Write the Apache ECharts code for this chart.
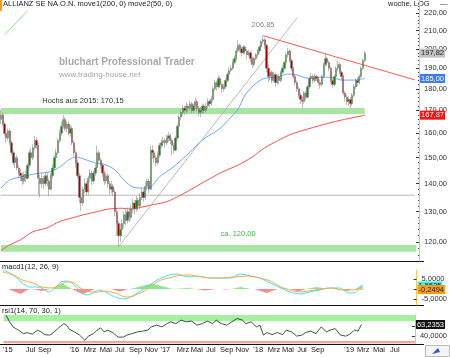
<!DOCTYPE html>
<html><head><meta charset="utf-8">
<script src="https://cdn.jsdelivr.net/npm/echarts@6/dist/echarts.min.js"></script>
<style>html,body{margin:0;padding:0;background:#fff}#c{width:450px;height:357px}</style>
</head><body><div id="c"></div>
<script>
// ---------- data ----------
const startDate = '2015-03-23';
const weekCount = 235;
const firstOpen = 166;
const closes = [
168,164,160,158,161,156,152,148,150,146,
144,143,141,143.5,142,147,152,150,154,157,
155,142,140,142,140,143,141,138,143,146,
150,152,157,160,163,166,162,164,160,162,
156,152,148,143,135,133,138,140,137,142,
144,141,144,146,152,149,147,144,141,143,
140,138,139,137,130,126,122,124,126,129,
127,130,128,131,133,131,134,132,135,137,
135,139,141,138,153,152,150,148,151,155,
156,157,156,158,159,157,155,153,158,163,
167,169,171,170,172,171,173,170,172,174,
171,169,170,172,170,172,174,173,175,180,
183,181,185,182,180,181,184,187,189,190,
193,195,199,202,200,198,201,199,197,198,
195,192,195,197,199,201,204,205,202,190,
186,188,184,187,183,186,184,188,190,193,
197,199,194,190,186,183,180,177,175,174,
178,176,181,185,186,184,186,185,183,182,
186,192,195,193,190,184,182,186,190,192,
188,186,178,176,174,175,173,177,181,184,
183,186,190,194,197.82];
const highs = [
170.2,169,165,161,162,162,157,153,151,151,
147,145.5,144,144.5,145,148,153,154,155.5,159,
158.5,156,143.5,144,143,144.5,144,142,144,147.5,
151,153.5,158,161.5,165,168,167,165.5,165,163.5,
163,157,153,149,144,136.5,139,142,141,143,
145.5,145,145,147.5,155,153,150,148,145,144.5,
144,141,141,140,138,131,127,126,127.5,130,
131,131.5,131.5,132.5,134.5,134,135.5,135,136.5,138.5,
138,140.5,142,142,155,155,153,151,152.5,156,
157.5,158.5,158,159.5,160.5,160,158,156,159,164,
168,170,172.5,172,173.5,173,174.5,174,173,176,
175,172,171.5,173,173,173.5,175.5,175,176.5,181,
184.5,184,186.5,186,183,182.5,185,188,190.5,191.5,
194.5,196.5,200.5,204.8,203,201,202,202,200,199.5,
199,196,196,198,200,202,205,206.85,206,203,
192,190,189,188.5,188,187,187,189,191.5,194,
198.5,200.5,200,195,191,187,184,181,178,176.5,
179,179,182,186,187.5,187,187.5,187,186,184.5,
187,193,197.5,196,194,191,185,187,191,194,
193,189,187,179,177,176.5,176,178,182,185,
185.5,187,191,195,199];
const lows = [
164,163,159,156,157,155,151,147,146,145,
142,141,139.5,140,140.5,141.5,146,148.5,149,153,
153.5,136,135,138.5,138,139,139,135.5,137.5,142,
145,149,151,156,159,162,161,160.5,159,158.5,
155,150.5,146,142,133,130.3,132,136.5,135.5,136,
140.5,139.5,140,143,145,148,145.5,142.5,139.5,140,
138.5,136,136.5,135.5,128.5,122,118.5,120,122,124.5,
125.5,126,126.5,127,129.5,129,130,130.5,131,134,
133.5,134,137.5,136.5,137.5,149.5,148,146.5,147,150,
154,154.5,154,155,156.5,155.5,151,151.5,152.5,157,
162,165.5,167.5,168,168.5,169,170,168.5,169,170.5,
169.5,167.5,167,168.5,168.5,169,171,171.5,172,174,
179,179,180,180.5,178,178.5,180,183,186,188,
189,192,194,198,198.5,196,197,197.5,195,196,
193,190,191,194,196,198,200,202.5,200,188,
183,184,182.5,183,181,182,182,183,187,189,
192,195.5,193,188.5,185,181.5,178.5,175.5,173,171,
173,174.5,175.5,180,183.5,182.5,183,183.5,181.5,180,
181,185,191,191.5,188.5,182.5,180.5,181,185,188.5,
187,184,177,174,172.5,172,171,172,176,180,
181,182,185,189,193];

const ma50 = [[0,138.4],[5,141.4],[11,142.5],[16,143.3],[22,144.0],[27,144.4],[33,146.3],[38,149.1],[42,150.3],[48,149.1],[53,147.9],[59,147.1],[64,145.2],[69,141.4],[74,138.8],[80,138.4],[84,138.8],[89,142.6],[97,146.5],[106,152.2],[113,157.2],[123,162.1],[128,166.1],[133,170.6],[137,177.1],[143,182.6],[148,185.1],[155,185.6],[161,187.2],[166,186.7],[172,185.1],[180,185.6],[185,185.6],[191,184.2],[198,184.2],[204,185.0]];
const ma200 = [[0,117.3],[5,119.1],[11,120.7],[18,123.3],[26,124.6],[33,126.7],[40,127.9],[46,128.9],[53,129.9],[60,130.9],[68,131.2],[73,130.9],[79,131.6],[84,132.3],[92,133.3],[99,135.2],[106,137.7],[114,140.7],[121,143.3],[124,144.4],[133,147.1],[141,150.3],[148,154.0],[155,156.8],[163,159.7],[172,161.8],[184,164.4],[191,165.7],[204,167.87]];

const macdLine = [[1,9.5],[5,8],[9,5.5],[12,3],[16,1],[20,1],[23,0.5],[27,-1.5],[31,1],[34,3.5],[37,4],[40,3],[44,-0.5],[48,-3],[51,-2.5],[55,-0.5],[59,-1.5],[62,-3],[66,-4.5],[70,-5],[73,-4],[77,-2],[81,0.5],[84,2],[88,4.5],[92,6],[95,7],[99,7.5],[103,6.5],[107,6],[110,6.5],[114,6],[118,5.5],[124,5.5],[130,5.5],[135,7.5],[141,6.5],[146,5.5],[152,3],[158,0.5],[163,-1.5],[169,-2.5],[174,-1.5],[180,-0.5],[185,0.5],[191,0.5],[195,-1.5],[197,-2],[200,-1.5],[203,1],[204,1.5535]];
const signalLine = [[1,8.5],[7,7],[12,4.5],[18,3],[23,1],[29,0.5],[33,2],[37,3.5],[40,3.5],[44,1],[48,-1],[51,-1.5],[55,-1.5],[59,-1],[62,-1.5],[66,-2.5],[70,-4],[73,-4],[77,-2.5],[81,-1],[84,1],[88,3.5],[92,5],[95,5.5],[99,6.5],[103,7],[107,7],[110,6.5],[114,6],[118,5.5],[124,5.5],[131,6],[139,6.5],[146,5.5],[152,4],[158,1],[163,-0.5],[169,-1.5],[174,-1],[180,0],[187,0.5],[192,-0.5],[198,-0.5],[202,0],[204,-0.2494]];
const histPos = [[29,0],[35,2.8],[40,0],[73,0],[85,2.8],[97,0],[105,0.5],[110,0],[130,0],[135,1],[141,0],[157,0],[160,0.5],[162,0],[172,0],[178,1],[185,0],[187,0],[189,0.5],[191,0],[200,0],[204,2.3]];
const histNeg = [[4,0],[11,-2.5],[16,0],[18,0],[23,-1],[28,0],[40,0],[46,-2.6],[53,0],[62,0],[67,-1.3],[72,0],[110,0],[115,-0.7],[121,0],[124,0],[127,-0.3],[130,0],[143,0],[150,-2],[156,0],[163,0],[168,-1.3],[172,0],[192,0],[195,-1],[198,0]];
const rsiLine = [[1,82],[3,68.6],[5,58.5],[8,52],[11,45],[13,47],[16,44],[19,52],[21,48.5],[23,43],[26,42],[28,47],[31,56.5],[34,65],[36,60.5],[37,54],[40,48.5],[43,42],[46,31.7],[48,40],[51,45],[53,52],[55,56.5],[57,48.5],[59,52],[62,47],[65,38],[68,38],[70,42],[73,45],[76,48.5],[79,50],[82,52],[84,58.5],[87,62],[90,58.5],[93,65],[95,68.6],[98,65],[101,72],[104,68.6],[107,70],[110,62],[113,65],[116,70],[119,65],[121,72],[124,65],[127,62],[130,68.6],[133,75.4],[134,78.7],[136,72],[138,65],[141,68.6],[144,58.5],[146,62],[148,42],[150,47],[153,43],[156,47],[159,43],[161,52],[164,48.5],[167,40],[170,42],[172,47],[175,50],[178,45],[181,58.5],[184,48.5],[186,52],[189,55],[192,42],[195,40],[197,43],[200,52],[202,50],[204,63.2353]];

const xTickLabels = [[2,"'15"],[15,'Jul'],[23,'Sep'],[40,"'16"],[49,'Mrz'],[58,'Mai'],[66,'Jul'],[75,'Sep'],[84,'Nov'],[92,"'17"],[102,'Mrz'],[110,'Mai'],[118,'Jul'],[127,'Sep'],[136,'Nov'],[145,"'18"],[154,'Mrz'],[162,'Mai'],[170,'Jul'],[179,'Sep'],[197,"'19"],[205,'Mrz'],[214,'Mai'],[223,'Jul']];
const yTickValues = [120,130,140,150,160,170,180,190,200,210,220];
const yMinorValues = [116,118,122,124,126,128,132,134,136,138,142,144,146,148,152,154,156,158,162,164,166,168,172,174,176,178,182,184,186,188,192,194,196,198,202,204,206,208,212,214,216,218,222,224,226];
const supportLine = [[0,135.8],[232,135.8]];
const trendUp = [[66,118.5],[166,217.1]];
const trendDown = [[147,207.2],[232,184.3]];
const greenLine = [[2,207.6],[15,221.3]];
const highBand = [168.4,171.1];
const lowBand = [116.9,119.0];
const lastClose = 197.82, lastMa50 = 185.00, lastMa200 = 167.87;
const lastMacd = 1.5535, lastSignal = -0.2494, lastRsi = 63.2353;

// ---------- build ----------
const categories = [];
{
  const d0 = new Date(startDate + 'T00:00:00Z');
  for (let i = 0; i < weekCount; i++) {
    const d = new Date(d0.getTime() + i * 7 * 86400000);
    categories.push(d.toISOString().slice(0, 10));
  }
}
const candles = closes.map((c, i) => [i === 0 ? firstOpen : closes[i - 1], c, lows[i], highs[i]]);
const labelMap = {};
xTickLabels.forEach(([i, t]) => { labelMap[i] = t; });
const FF = 'Liberation Sans, Arial, sans-serif';
const yMin = 114.1, yMax = 227.7;
const fmt = (v, d) => v.toFixed(d).replace('.', ',');
const boxLabel = (txt, bg, fg) => ({ show: true, position: 'end', distance: 1, formatter: txt, backgroundColor: bg, color: fg, fontSize: 7.5, fontFamily: FF, padding: [1, 1, 0, 1] });
const hiddenLine = { color: 'rgba(0,0,0,0)', width: 0, type: 'solid' };
const AX = '#f0c850';

const xBase = {
  type: 'category', data: categories, boundaryGap: true,
  axisLine: { show: false, onZero: false }, axisTick: { show: false }, splitLine: { show: false }
};

const option = {
  animation: false,
  backgroundColor: '#ffffff',
  textStyle: { fontFamily: FF },
  grid: [
    { left: 0, top: 0, width: 424, height: 261 },
    { left: 0, top: 270, width: 424, height: 35 },
    { left: 0, top: 315, width: 424, height: 28.3 }
  ],
  xAxis: [
    Object.assign({}, xBase, { gridIndex: 0, axisLabel: { show: false } }),
    Object.assign({}, xBase, { gridIndex: 1, axisLabel: { show: false } }),
    Object.assign({}, xBase, {
      gridIndex: 2,
      axisLabel: {
        show: true, fontSize: 7.5, color: '#222', margin: 3, fontFamily: FF,
        interval: (idx) => labelMap.hasOwnProperty(idx),
        formatter: (v, idx) => labelMap[idx] || ''
      }
    })
  ],
  yAxis: [
    { gridIndex: 0, type: 'log', min: yMin, max: yMax, position: 'right',
      axisLine: { show: true, lineStyle: { color: AX, width: 1 } },
      axisTick: { show: false }, axisLabel: { show: false }, splitLine: { show: false }, minorTick: { show: false } },
    { gridIndex: 0, type: 'value', min: Math.log(yMin), max: Math.log(yMax), position: 'right',
      axisLine: { show: false }, splitLine: { show: false },
      axisTick: { show: true, inside: true, length: 3, customValues: yTickValues.map(Math.log), lineStyle: { color: '#333' } },
      axisLabel: { show: true, customValues: yTickValues.map(Math.log), margin: 5, fontSize: 7.5, color: '#333', fontFamily: FF,
        formatter: (v) => fmt(Math.exp(v), 2) } },
    { gridIndex: 0, type: 'value', min: Math.log(yMin), max: Math.log(yMax), position: 'right',
      axisLine: { show: false }, splitLine: { show: false }, axisLabel: { show: false },
      axisTick: { show: true, inside: true, length: 1.2, customValues: yMinorValues.map(Math.log), lineStyle: { color: '#555' } } },
    { gridIndex: 1, type: 'value', min: -8, max: 9.5, position: 'right',
      axisLine: { show: true, lineStyle: { color: AX } }, splitLine: { show: false },
      axisTick: { show: true, inside: true, length: 3, customValues: [-5, 0, 5], lineStyle: { color: '#333' } },
      axisLabel: { show: true, customValues: [-5, 5], margin: 5, fontSize: 7.5, color: '#333', fontFamily: FF, formatter: (v) => fmt(v, 4) } },
    { gridIndex: 2, type: 'value', min: 25.6, max: 82.3, position: 'right',
      axisLine: { show: true, lineStyle: { color: AX } }, splitLine: { show: false },
      axisTick: { show: true, inside: true, length: 3, customValues: [40, 60], lineStyle: { color: '#333' } },
      axisLabel: { show: true, customValues: [40], margin: 5, fontSize: 7.5, color: '#333', fontFamily: FF, formatter: (v) => fmt(v, 4) } }
  ],
  series: [
    { name: 'support', type: 'line', xAxisIndex: 0, yAxisIndex: 0, data: supportLine, symbol: 'none', z: 1,
      lineStyle: { color: '#b8b8b8', width: 1 }, silent: true,
      markArea: { silent: true, itemStyle: { color: '#a6e6a2', opacity: 1 },
        data: [
          [{ xAxis: 0, yAxis: highBand[0] }, { xAxis: 204, yAxis: highBand[1] }],
          [{ xAxis: 0, yAxis: lowBand[0] }, { xAxis: 233, yAxis: lowBand[1] }]
        ] } },
    { name: 'ma200', type: 'line', xAxisIndex: 0, yAxisIndex: 0, data: ma200, symbol: 'none', smooth: 0.3, z: 2,
      lineStyle: { color: '#ff5050', width: 1 }, silent: true },
    { name: 'ma50', type: 'line', xAxisIndex: 0, yAxisIndex: 0, data: ma50, symbol: 'none', smooth: 0.3, z: 2,
      lineStyle: { color: '#6ea6ff', width: 1 }, silent: true },
    { name: 'trendUp', type: 'line', xAxisIndex: 0, yAxisIndex: 0, data: trendUp, symbol: 'none', z: 2,
      lineStyle: { color: '#a8a8a8', width: 0.8 }, silent: true },
    { name: 'trendDown', type: 'line', xAxisIndex: 0, yAxisIndex: 0, data: trendDown, symbol: 'none', z: 2,
      lineStyle: { color: '#ff5a5a', width: 1 }, silent: true },
    { name: 'green', type: 'line', xAxisIndex: 0, yAxisIndex: 0, data: greenLine, symbol: 'none', z: 2,
      lineStyle: { color: '#8ee08a', width: 1 }, silent: true },
    { name: 'price', type: 'candlestick', xAxisIndex: 0, yAxisIndex: 0, data: candles, z: 5, barWidth: 1.8,
      itemStyle: { color: '#0c8c0c', color0: '#a80000', borderColor: '#7a7a7a', borderColor0: '#7a7a7a', borderWidth: 0.5 },
      markPoint: { silent: true, symbol: 'rect', symbolSize: 1, itemStyle: { color: 'rgba(0,0,0,0)' },
        label: { show: true, position: 'inside', fontSize: 7.5, fontFamily: FF },
        data: [
          { coord: [46, 174.1], label: { formatter: 'Hochs aus 2015: 170,15', color: '#333' } },
          { coord: [147, 213.1], label: { formatter: '206,85', color: '#888' } },
          { coord: [133, 122.6], label: { formatter: 'ca. 120,00', color: '#3cb83c' } }
        ] },
      markLine: { silent: true, symbol: 'none', lineStyle: hiddenLine, z: 10,
        data: [
          { yAxis: lastClose, label: boxLabel(fmt(lastClose, 2), '#c4c4c4', '#222') },
          { yAxis: lastMa50, label: boxLabel(fmt(lastMa50, 2), '#3a78ff', '#fff') },
          { yAxis: lastMa200, label: boxLabel(fmt(lastMa200, 2), '#ff1010', '#fff') }
        ] } },
    { name: 'histPos', type: 'line', xAxisIndex: 1, yAxisIndex: 3, data: histPos, symbol: 'none', z: 1,
      lineStyle: { width: 0 }, areaStyle: { color: '#8fe68c', opacity: 1 }, silent: true },
    { name: 'histNeg', type: 'line', xAxisIndex: 1, yAxisIndex: 3, data: histNeg, symbol: 'none', z: 1,
      lineStyle: { width: 0 }, areaStyle: { color: '#ff8a8a', opacity: 1 }, silent: true },
    { name: 'macd', type: 'line', xAxisIndex: 1, yAxisIndex: 3, data: macdLine, symbol: 'none', smooth: 0.3, z: 3,
      lineStyle: { color: '#3ee4f4', width: 1 }, silent: true,
      markLine: { silent: true, symbol: 'none', lineStyle: hiddenLine,
        data: [{ yAxis: lastMacd, label: boxLabel(fmt(lastMacd, 4), '#3ef0f0', '#222') }] } },
    { name: 'signal', type: 'line', xAxisIndex: 1, yAxisIndex: 3, data: signalLine, symbol: 'none', smooth: 0.3, z: 4,
      lineStyle: { color: '#ffa640', width: 1 }, silent: true,
      markLine: { silent: true, symbol: 'none', lineStyle: hiddenLine,
        data: [{ yAxis: lastSignal, label: boxLabel(fmt(lastSignal, 4), '#ff9a10', '#222') }] } },
    { name: 'rsi', type: 'line', xAxisIndex: 2, yAxisIndex: 4, data: rsiLine, symbol: 'none', z: 3,
      lineStyle: { color: '#222', width: 0.8 }, silent: true,
      markArea: { silent: true, data: [
        [{ yAxis: 70, itemStyle: { color: '#a6f0a2' } }, { yAxis: 82.3 }],
        [{ yAxis: 25.6, itemStyle: { color: '#ffa0a0' } }, { yAxis: 30 }]
      ] },
      markLine: { silent: true, symbol: 'none', lineStyle: hiddenLine, z: 10,
        data: [{ yAxis: lastRsi, label: boxLabel(fmt(lastRsi, 4), '#111', '#fff') }] } }
  ],
  graphic: [
    { type: 'rect', left: 0, top: 0, shape: { width: 2, height: 11 }, style: { fill: '#ff9a1a' }, silent: true },
    { type: 'text', left: 3, top: 0, style: { text: 'ALLIANZ SE NA O.N. move1(200, 0) move2(50, 0)', fill: '#222', font: '7.5px ' + FF }, silent: true },
    { type: 'text', left: 388, top: 0, style: { text: 'woche, LOG', fill: '#222', font: '7.5px ' + FF }, silent: true },
    { type: 'text', left: 440, top: 0, style: { text: '\u2014', fill: '#444', font: '7.5px ' + FF }, silent: true },
    { type: 'text', left: 59, top: 57, style: { text: 'bluchart Professional Trader', fill: '#a8a8a8', font: 'bold 10px ' + FF }, silent: true },
    { type: 'text', left: 59, top: 71, style: { text: 'www.trading-house.net', fill: '#a8a8a8', font: '8px ' + FF }, silent: true },
    { type: 'text', left: 2, top: 263, style: { text: 'macd1(12, 26, 9)', fill: '#222', font: '7.5px ' + FF }, silent: true },
    { type: 'text', left: 2, top: 307, style: { text: 'rsi1(14, 70, 30, 1)', fill: '#222', font: '7.5px ' + FF }, silent: true },
    { type: 'line', shape: { x1: 0, y1: 261.5, x2: 424, y2: 261.5 }, style: { stroke: '#111', lineWidth: 1 }, silent: true },
    { type: 'line', shape: { x1: 0, y1: 305.5, x2: 424, y2: 305.5 }, style: { stroke: '#111', lineWidth: 1 }, silent: true },
    { type: 'line', shape: { x1: 0, y1: 344.5, x2: 424, y2: 344.5 }, style: { stroke: '#111', lineWidth: 1 }, silent: true },
    { type: 'rect', left: 425, top: 345, shape: { width: 24, height: 11 }, style: { fill: '#f4f4f4', stroke: '#bbb' }, silent: true },
    { type: 'polygon', shape: { points: [[432, 354], [438, 348], [440, 352]] }, style: { fill: '#2a5ad8' }, silent: true }
  ]
};
const chart = echarts.init(document.getElementById('c'), null, { renderer: 'canvas' });
chart.setOption(option);
</script></body></html>
